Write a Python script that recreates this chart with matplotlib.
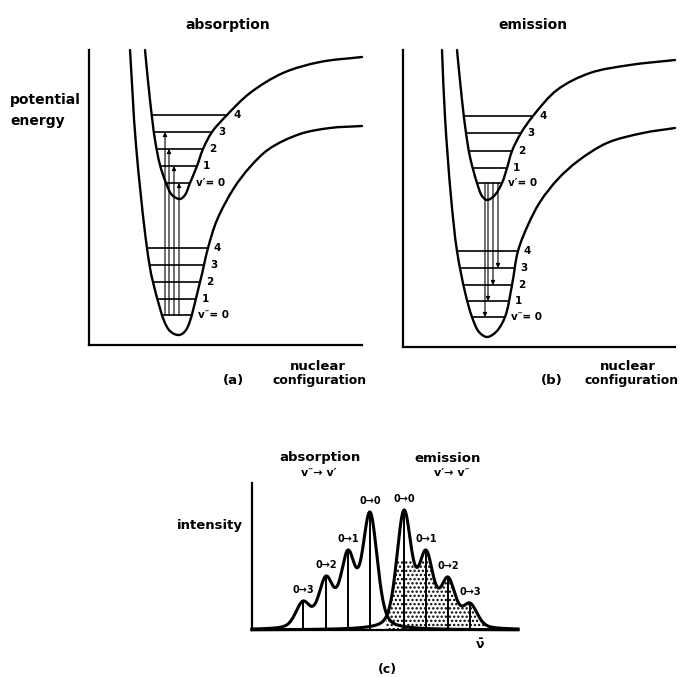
import numpy as np
import matplotlib
matplotlib.use('Agg')
import matplotlib.pyplot as plt
from matplotlib.path import Path
from matplotlib.patches import PathPatch

W, H = 685, 677
plt.rcParams['font.family'] = ['DejaVu Sans']
plt.rcParams['hatch.linewidth'] = 1.1

# ---------------- data: panel (a) absorption ----------------
# potential curves: (nuclear configuration, energy) points
a_lower_curve = [(41, 295), (47, 200), (58, 97), (64, 63), (80, 15), (90, 10),
                 (97, 15), (111, 63), (119, 97), (128, 125), (145, 157),
                 (161, 178), (180, 196), (211, 211), (241, 217), (273, 219)]
a_upper_curve = [(56, 295), (61, 245), (66, 205), (71, 180), (77, 162), (83, 150), (91, 146),
                 (96, 150), (101, 162), (108, 179), (114, 196), (123, 213), (138, 230),
                 (161, 252), (194, 272), (231, 283), (273, 288)]
a_lower_E = [30, 46, 63, 80, 97]
a_upper_E = [162, 179, 196, 213, 230]
a_arrow_x = [76, 80, 85, 90]
a_arrow_to = [3, 2, 1, 0]

# ---------------- data: panel (b) emission ----------------
b_lower_curve = [(39, 297), (42, 230), (48, 150), (54, 96), (62, 55), (69, 30), (76, 15),
                 (84, 10), (93, 15), (102, 30), (109, 62), (115, 96), (125, 122),
                 (137, 145), (155, 168), (175, 186), (204, 204), (240, 214), (272, 219)]
b_upper_curve = [(54, 297), (59, 247), (63, 214), (67, 190), (74, 164), (79, 151), (84, 147),
                 (91, 151), (99, 164), (104, 179), (109, 196), (118, 214), (130, 231),
                 (154, 257), (187, 274), (227, 282), (272, 287)]
b_lower_E = [30, 46, 62, 79, 96]
b_upper_E = [164, 179, 196, 214, 231]
b_arrow_x = [82, 85, 90, 95]
b_arrow_to = [0, 1, 2, 3]

level_labels = ['0', '1', '2', '3', '4']

# ---------------- data: panel (c) spectra ----------------
abs_pos = [118, 96, 74, 51]
abs_height = [118, 80, 54, 29]
em_pos = [152, 174, 196, 218]
em_height = [120, 80, 53, 27]
peak_labels = ['0\u21920', '0\u21921', '0\u21922', '0\u21923']
line_gamma = 9.0
line_sigma = 7.2
line_eta = 0.35

# ---------------- helpers ----------------
fig = plt.figure(figsize=(W / 100, H / 100), dpi=100)
fig.patch.set_facecolor('white')


def axes_px(left, top, right, bottom):
    return fig.add_axes([left / W, 1 - bottom / H, (right - left) / W, (bottom - top) / H])


def txt(px, py, s, size=10, ha='center', va='center', **kw):
    fig.text(px / W, 1 - py / H, s, fontsize=size, ha=ha, va=va,
             fontweight='bold', **kw)


def bezier_segments(pts, alpha=0.5):
    P = np.array(pts, float)
    Pe = np.vstack([2 * P[0] - P[1], P, 2 * P[-1] - P[-2]])
    segs = []
    for i in range(len(P) - 1):
        p0, p1, p2, p3 = Pe[i], Pe[i + 1], Pe[i + 2], Pe[i + 3]
        d0 = max(np.linalg.norm(p1 - p0) ** alpha, 1e-6)
        d1 = max(np.linalg.norm(p2 - p1) ** alpha, 1e-6)
        d2 = max(np.linalg.norm(p3 - p2) ** alpha, 1e-6)
        m1 = (p1 - p0) / d0 - (p2 - p0) / (d0 + d1) + (p2 - p1) / d1
        m2 = (p2 - p1) / d1 - (p3 - p1) / (d1 + d2) + (p3 - p2) / d2
        segs.append((p1, p1 + m1 * d1 / 3, p2 - m2 * d1 / 3, p2))
    return segs


def curve_path(segs):
    verts = [segs[0][0]]
    codes = [Path.MOVETO]
    for s in segs:
        verts += [s[1], s[2], s[3]]
        codes += [Path.CURVE4] * 3
    return Path(verts, codes)


def flatten(segs, n=40):
    t = np.linspace(0, 1, n)[:, None]
    out = []
    for a, b, c, d in segs:
        out.append((1 - t) ** 3 * a + 3 * (1 - t) ** 2 * t * b + 3 * (1 - t) * t ** 2 * c + t ** 3 * d)
    return np.vstack(out)


def well(ax, curve, E, lw=1.7):
    segs = bezier_segments(curve)
    ax.add_patch(PathPatch(curve_path(segs), fill=False, lw=lw, color='black',
                           capstyle='round', joinstyle='round', clip_on=False))
    pts = flatten(segs)
    k = np.argmin(pts[:, 1])
    left, right = pts[:k + 1][::-1], pts[k:]
    ends = []
    for e in E:
        xl = np.interp(e, left[:, 1], left[:, 0])
        xr = np.interp(e, right[:, 1], right[:, 0])
        ax.plot([xl, xr], [e, e], color='black', lw=1.2, solid_capstyle='butt')
        ends.append(xr)
    return ends


def style(ax, xmax, ymax):
    ax.set_xlim(0, xmax)
    ax.set_ylim(0, ymax)
    for s in ['top', 'right']:
        ax.spines[s].set_visible(False)
    for s in ['left', 'bottom']:
        ax.spines[s].set_linewidth(1.6)
    ax.set_xticks([])
    ax.set_yticks([])
    ax.patch.set_alpha(0)


def labels(ax, right, E, prime):
    for i, (r, e) in enumerate(zip(right, E)):
        s = ('v' + prime + '= 0') if i == 0 else level_labels[i]
        ax.text(r + 6, e, s, fontsize=7.5, fontweight='bold', ha='left', va='center')


def arrow(ax, x, y0, y1):
    ax.annotate('', xy=(x, y1), xytext=(x, y0),
                arrowprops=dict(arrowstyle='-|>', lw=0.8, color='black',
                                mutation_scale=6, shrinkA=0, shrinkB=0))


# ---------------- panel (a) ----------------
ax_a = axes_px(89, 50, 362, 345)
style(ax_a, 273, 295)
r_lo = well(ax_a, a_lower_curve, a_lower_E)
r_up = well(ax_a, a_upper_curve, a_upper_E)
labels(ax_a, r_lo, a_lower_E, '\u2033')
labels(ax_a, r_up, a_upper_E, '\u2032')
for x, v in zip(a_arrow_x, a_arrow_to):
    arrow(ax_a, x, a_lower_E[0], a_upper_E[v])

# ---------------- panel (b) ----------------
ax_b = axes_px(403, 50, 675, 347)
style(ax_b, 272, 297)
r_lo = well(ax_b, b_lower_curve, b_lower_E)
r_up = well(ax_b, b_upper_curve, b_upper_E)
labels(ax_b, r_lo, b_lower_E, '\u2033')
labels(ax_b, r_up, b_upper_E, '\u2032')
for x, v in zip(b_arrow_x, b_arrow_to):
    arrow(ax_b, x, b_upper_E[0], b_lower_E[v])

# ---------------- panel (c) ----------------
ax_c = axes_px(252, 483, 518, 630)
style(ax_c, 266, 147)


def shape(d):
    d = np.asarray(d, float)
    lor = line_gamma ** 2 / (d ** 2 + line_gamma ** 2)
    gau = np.exp(-d ** 2 / (2 * line_sigma ** 2))
    return line_eta * lor + (1 - line_eta) * gau


def band(x, pos, height):
    pos = np.array(pos, float)
    M = shape(pos[:, None] - pos[None, :])
    amp = np.linalg.solve(M, np.array(height, float))
    return sum(a * shape(x - p) for a, p in zip(amp, pos))


xs = np.linspace(0, 266, 1500)
y_abs = band(xs, abs_pos, abs_height)
y_em = band(xs, em_pos, em_height)

ax_c.fill_between(xs, 0, np.minimum(y_em, 70), where=(xs >= 134) & (xs <= 236),
                  facecolor='none', edgecolor='black', hatch='....', linewidth=0)
ax_c.plot(xs, y_abs, color='black', lw=2.2, clip_on=False)
ax_c.plot(xs, y_em, color='black', lw=2.2, clip_on=False)
for p, h, lab in zip(abs_pos, abs_height, peak_labels):
    ax_c.plot([p, p], [0, h], color='black', lw=1.4)
    ax_c.text(p, h + 11, lab, fontsize=7, fontweight='bold', ha='center', va='center')
for p, h, lab in zip(em_pos, em_height, peak_labels):
    ax_c.plot([p, p], [0, h], color='black', lw=1.4)
    ax_c.text(p, h + 11, lab, fontsize=7, fontweight='bold', ha='center', va='center')

# ---------------- texts ----------------
txt(228, 25, 'absorption', 10)
txt(533, 25, 'emission', 10)
txt(10, 100, 'potential', 10, ha='left')
txt(10, 121, 'energy', 10, ha='left')
txt(318, 367, 'nuclear', 9.5)
txt(320, 381, 'configuration', 9)
txt(233, 381, '(a)', 9.5)
txt(628, 367, 'nuclear', 9.5)
txt(632, 381, 'configuration', 9)
txt(552, 381, '(b)', 9.5)
txt(320, 458, 'absorption', 9.5)
txt(319, 473, 'v\u2033\u2192 v\u2032', 8)
txt(448, 458, 'emission', 9.5)
txt(452, 473, 'v\u2032\u2192 v\u2033', 8)
txt(210, 525, 'intensity', 9.5)
txt(480, 645, r'$\mathbf{\bar{\nu}}$', 9)
txt(387, 669, '(c)', 9)

fig.savefig('out.png', dpi=100, facecolor='white')
